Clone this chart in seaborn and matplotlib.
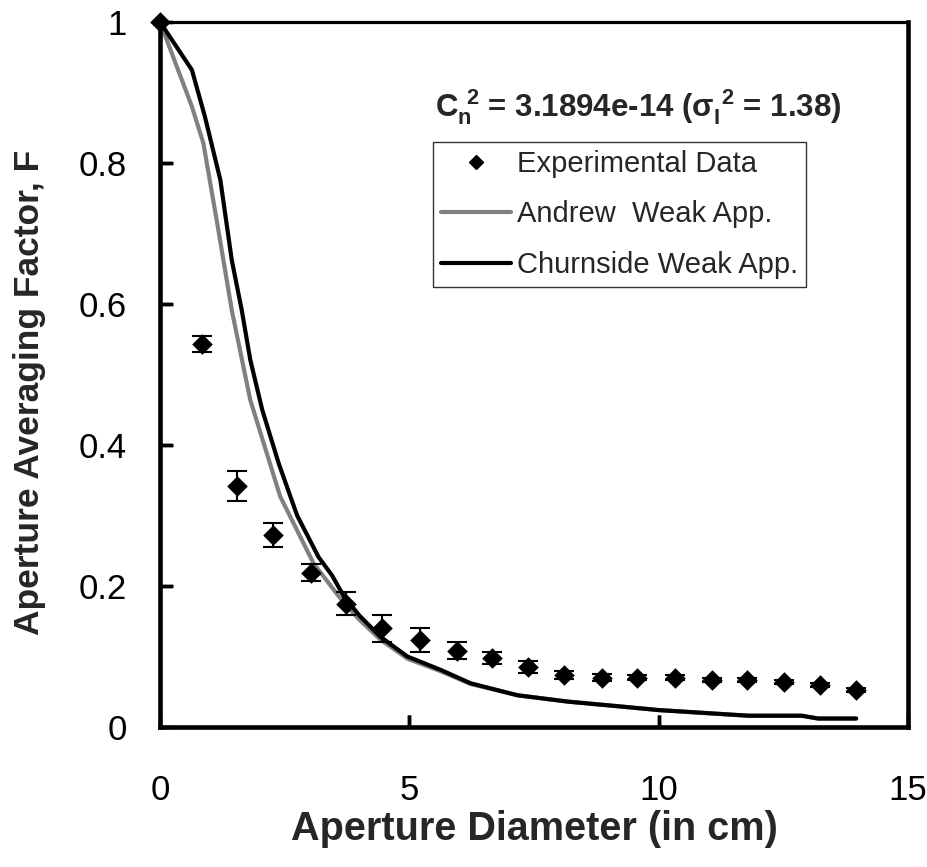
import matplotlib
matplotlib.use("Agg")
import matplotlib.pyplot as plt
import seaborn as sns
from matplotlib.lines import Line2D

# ---- data ----
exp_x = [0.0, 0.845, 1.548, 2.272, 3.036, 3.72, 4.444, 5.208, 5.952, 6.656, 7.38,
         8.104, 8.868, 9.572, 10.336, 11.06, 11.764, 12.508, 13.231, 13.955]
exp_y = [1.0, 0.543, 0.342, 0.272, 0.219, 0.175, 0.140, 0.123, 0.108, 0.098, 0.085,
         0.074, 0.070, 0.070, 0.070, 0.067, 0.067, 0.064, 0.060, 0.053]
exp_err = [0.0, 0.011, 0.021, 0.017, 0.012, 0.016, 0.019, 0.017, 0.012, 0.009, 0.009,
           0.006, 0.005, 0.004, 0.004, 0.003, 0.003, 0.003, 0.003, 0.003]

andrew_x = [0, 0.64, 0.87, 1.17, 1.44, 1.81, 2.41, 3.08, 3.59, 4.0, 4.42, 4.96, 5.63,
            6.23, 7.17, 8.18, 9.25, 10.0, 11.8, 12.87, 13.2, 13.96]
andrew_y = [1.0, 0.880, 0.828, 0.705, 0.591, 0.464, 0.327, 0.232, 0.185, 0.152, 0.124,
            0.097, 0.079, 0.061, 0.045, 0.036, 0.029, 0.024, 0.016, 0.016, 0.012, 0.012]

churn_x = [0, 0.64, 0.90, 1.21, 1.44, 1.64, 1.81, 2.05, 2.38, 2.75, 3.18, 3.45, 3.69,
           4.0, 4.42, 4.96, 5.63, 6.23, 7.17, 8.18, 9.25, 10.0, 11.8, 12.87, 13.2, 13.96]
churn_y = [1.0, 0.932, 0.866, 0.776, 0.662, 0.591, 0.521, 0.45, 0.374, 0.30, 0.241,
           0.215, 0.185, 0.158, 0.128, 0.100, 0.081, 0.062, 0.045, 0.036, 0.029, 0.024,
           0.016, 0.016, 0.012, 0.012]

x_ticks = [0, 5, 10, 15]
y_ticks = [0, 0.2, 0.4, 0.6, 0.8, 1]
y_ticklabels = ["0", "0.2", "0.4", "0.6", "0.8", "1"]

labels = ["Experimental Data", "Andrew  Weak App.", "Churnside Weak App."]

# ---- style ----
sns.set_theme(style="ticks")
plt.rcParams["font.family"] = ["Liberation Sans", "DejaVu Sans"]
plt.rcParams["mathtext.fontset"] = "custom"
plt.rcParams["mathtext.rm"] = "Liberation Sans:bold"
plt.rcParams["mathtext.bf"] = "Liberation Sans:bold"
plt.rcParams["mathtext.it"] = "Liberation Sans:bold"
plt.rcParams["axes.axisbelow"] = False

fig = plt.figure(figsize=(9.27, 8.67), dpi=100)
ax = fig.add_axes([160 / 927, 1 - 727 / 867, 748 / 927, 705 / 867])

sns.lineplot(x=andrew_x, y=andrew_y, color="#808080", lw=3, ax=ax,
             solid_capstyle="round", zorder=2, legend=False)
sns.lineplot(x=churn_x, y=churn_y, color="black", lw=3, ax=ax,
             solid_capstyle="round", zorder=3, legend=False)
ax.errorbar(exp_x, exp_y, yerr=exp_err, fmt="none", ecolor="black",
            elinewidth=1.5, capsize=7, capthick=1.5, zorder=4)
sns.scatterplot(x=exp_x, y=exp_y, marker="D", s=110, color="black",
                edgecolor="black", linewidth=0, ax=ax, zorder=5, clip_on=False,
                legend=False)

ax.set_xlim(0, 15)
ax.set_ylim(0, 1)
ax.set_xticks(x_ticks)
ax.set_xticklabels([str(t) for t in x_ticks])
ax.set_yticks(y_ticks)
ax.set_yticklabels(y_ticklabels)

for name, s in ax.spines.items():
    s.set_visible(True)
    s.set_color("black")
    s.set_linewidth(2.3 if name == "top" else 3.3)

ax.tick_params(axis="x", which="major", direction="in", length=9, width=2.5,
               pad=34, labelsize=25, color="black", labelcolor="black",
               bottom=True, top=False)
ax.tick_params(axis="y", which="major", direction="in", length=9, width=2.5,
               pad=24, labelsize=25, color="black", labelcolor="black",
               left=True, right=False)

# inward tick stubs drawn along the axes (positions from the tick lists)
ax.vlines(x_ticks[1:-1], 0, 0.017, transform=ax.get_xaxis_transform(),
          colors="black", linewidth=2.5, clip_on=False, zorder=7)
ax.hlines(y_ticks[1:-1], 0, 0.016, transform=ax.get_yaxis_transform(),
          colors="black", linewidth=2.5, clip_on=False, zorder=7)

ax.set_xlabel("Aperture Diameter (in cm)", fontsize=28.5, fontweight="bold")
ax.set_ylabel("Aperture Averaging Factor, F", fontsize=25.5, fontweight="bold")
ax.xaxis.set_label_coords(0.5, -0.118)
ax.yaxis.set_label_coords(-0.152, 0.474)

ax.text(0.367, 0.866, r"$C_n^{\ 2}$ = 3.1894e-14 ($\sigma_I^{\ 2}$ = 1.38)",
        transform=ax.transAxes, fontsize=22.5, fontweight="bold", ha="left",
        va="baseline")

handles = [
    Line2D([], [], marker="D", color="black", linestyle="none", markersize=7.5),
    Line2D([], [], color="#808080", lw=3),
    Line2D([], [], color="black", lw=3),
]
leg = ax.legend(handles, labels, loc="upper left",
                bbox_to_anchor=(0.365, 0.830), fontsize=21, frameon=True,
                fancybox=False, edgecolor="black", handlelength=2.4,
                handletextpad=0.2, borderpad=0.28, labelspacing=0.77,
                borderaxespad=0)
leg.get_frame().set_linewidth(1)

fig.savefig("out.png", dpi=100)
